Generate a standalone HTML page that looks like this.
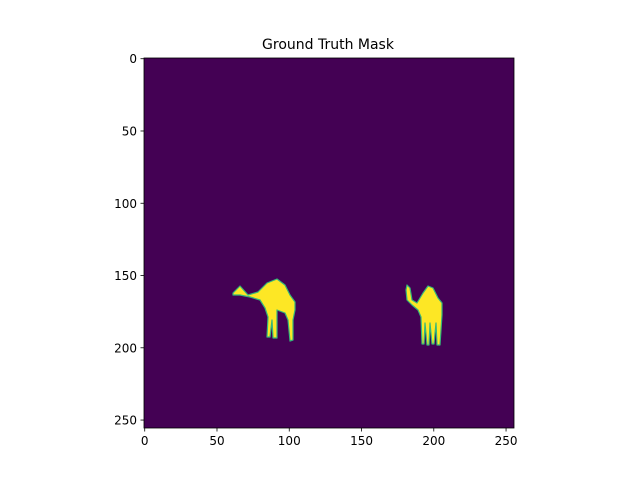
<!DOCTYPE html>
<html><head><meta charset="utf-8"><style>
body{margin:0;background:#fff;font-family:"Liberation Sans","DejaVu Sans",sans-serif}
svg text{font-family:"DejaVu Sans","Liberation Sans",sans-serif;font-size:12px;fill:#000}
</style></head><body>
<svg width="640" height="480">
<text x="328" y="49" text-anchor="middle" font-size="14" style="font-size:14px">Ground Truth Mask</text>
<rect x="144" y="58" width="370" height="370" fill="#440154"/>
<g fill="#fde725" stroke="#35b779" stroke-width="1.2" stroke-linejoin="round">
<path d="M233,293 L240,286 L248,295 L258,292 L267,283 L277,279 L285,285 L290,295 L295,302 L295,310 L293,320 L293,340 L290,341 L288,320 L285,313 L277,310 L277,338 L273,338 L272,320 L270,337 L267,337 L268,317 L265,308 L260,300 L250,297 L240,295 L233,295 Z"/>
<path d="M407,285 L410,288 L412,300 L417,303 L423,293 L428,286 L433,288 L438,298 L442,303 L442,315 L440,345 L437,345 L436,323 L434,344 L432,344 L430,323 L429,345 L427,345 L425,323 L424,344 L422,344 L421,317 L418,310 L412,305 L407,300 L406,290 Z"/>
</g>
<rect x="144" y="58" width="370" height="370" fill="none" stroke="#000" stroke-width="0.8"/>
<g id="ticks" stroke="#000" stroke-width="0.8"></g>
<g id="labels"></g>
</svg>
<script>
const xTicks=[0,50,100,150,200,250];
const yTicks=[0,50,100,150,200,250];
const N=256,x0=144,y0=58,S=370;
const sx=v=>x0+(v+0.5)/N*S, sy=v=>y0+(v+0.5)/N*S;
const tg=document.getElementById('ticks'),lg=document.getElementById('labels');
const ns='http://www.w3.org/2000/svg';
xTicks.forEach(v=>{
 const l=document.createElementNS(ns,'line');
 l.setAttribute('x1',sx(v));l.setAttribute('x2',sx(v));l.setAttribute('y1',428);l.setAttribute('y2',431.5);
 
 
 tg.appendChild(l);
 const t=document.createElementNS(ns,'text');
 t.setAttribute('x',sx(v));t.setAttribute('y',445);t.setAttribute('text-anchor','middle');t.textContent=v;
 
 
 lg.appendChild(t);
});
yTicks.forEach(v=>{
 const l=document.createElementNS(ns,'line');
 l.setAttribute('x1',140.5);l.setAttribute('x2',144);l.setAttribute('y1',sy(v));l.setAttribute('y2',sy(v));
 
 
 tg.appendChild(l);
 const t=document.createElementNS(ns,'text');
 t.setAttribute('x',137);t.setAttribute('y',sy(v)+4.5);t.setAttribute('text-anchor','end');t.textContent=v;
 
 
 lg.appendChild(t);
});
</script>
</body></html>
